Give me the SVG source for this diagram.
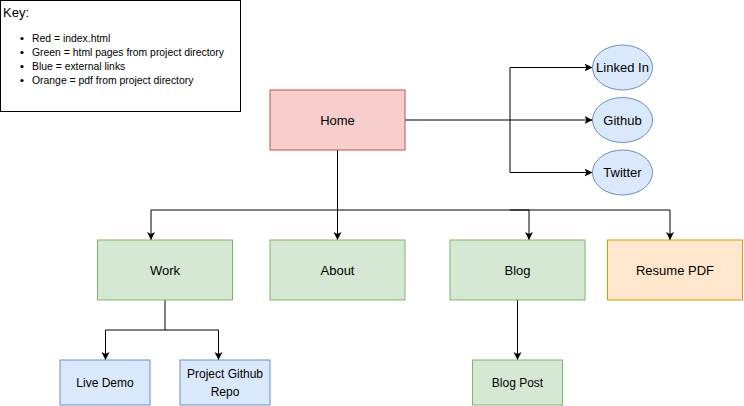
<svg xmlns="http://www.w3.org/2000/svg" width="744" height="406" viewBox="0 0 744 406">
<style>
text{font-family:"Liberation Sans",Arial,sans-serif;fill:#000}
.n13{font-size:13px;text-anchor:middle}
.n12{font-size:12px;text-anchor:middle}
.k{font-size:10.4px}
.red{fill:#f8cecc;stroke:#b85450}
.green{fill:#d5e8d4;stroke:#82b366}
.blue{fill:#dae8fc;stroke:#6c8ebf}
.orange{fill:#ffe6cc;stroke:#d79b00}
.edge{fill:none;stroke:#000;stroke-width:1}
</style>
<defs>
<marker id="arr" markerUnits="userSpaceOnUse" markerWidth="10" markerHeight="10" refX="8" refY="4" orient="auto">
<path d="M0,0 L8,4 L0,8 L2,4 Z" fill="#000"/>
</marker>
</defs>
<rect width="744" height="406" fill="#fff"/>
<g id="key">
<rect x="0.5" y="0.5" width="240" height="111" fill="#fff" stroke="#000"/>
<text x="3" y="17" style="font-size:13px">Key:</text>
<circle cx="22" cy="38.5" r="1.6" fill="#000"/>
<circle cx="22" cy="52.5" r="1.6" fill="#000"/>
<circle cx="22" cy="66.5" r="1.6" fill="#000"/>
<circle cx="22" cy="80.5" r="1.6" fill="#000"/>
<text class="k" x="32" y="42">Red = index.html</text>
<text class="k" x="32" y="56">Green = html pages from project directory</text>
<text class="k" x="32" y="70">Blue = external links</text>
<text class="k" x="32" y="84">Orange = pdf from project directory</text>
</g>
<g id="connectors">
<path class="edge" d="M405,120 H592.5" marker-end="url(#arr)"/>
<path class="edge" d="M510,120 V67.5 H592.5" marker-end="url(#arr)"/>
<path class="edge" d="M510,120 V172.5 H592.5" marker-end="url(#arr)"/>
<path class="edge" d="M337.5,150 V240" marker-end="url(#arr)"/>
<path class="edge" d="M337.5,210 H151 V240" marker-end="url(#arr)"/>
<path class="edge" d="M337.5,210 H529 V240" marker-end="url(#arr)"/>
<path class="edge" d="M529,210 H670 V240" marker-end="url(#arr)"/>
<path class="edge" d="M510,210 H529"/>
<path class="edge" d="M165,300 V330 H105.5 V360" marker-end="url(#arr)"/>
<path class="edge" d="M165,330 H218.5 V360" marker-end="url(#arr)"/>
<path class="edge" d="M517.5,300 V360" marker-end="url(#arr)"/>
</g>
<g id="home"><rect class="red" x="270" y="90" width="135" height="60"/><text class="n13" x="337.5" y="124.6">Home</text></g>
<g id="linkedin"><ellipse class="blue" cx="622.5" cy="67.5" rx="30" ry="22.5"/><text class="n13" x="622.5" y="72.1">Linked In</text></g>
<g id="github"><ellipse class="blue" cx="622.5" cy="120" rx="30" ry="22.5"/><text class="n13" x="622.5" y="124.6">Github</text></g>
<g id="twitter"><ellipse class="blue" cx="622.5" cy="172.5" rx="30" ry="22.5"/><text class="n13" x="622.5" y="177.1">Twitter</text></g>
<g id="work"><rect class="green" x="97.5" y="240" width="135" height="60"/><text class="n13" x="165" y="274.6">Work</text></g>
<g id="about"><rect class="green" x="270" y="240" width="135" height="60"/><text class="n13" x="337.5" y="274.6">About</text></g>
<g id="blog"><rect class="green" x="450" y="240" width="135" height="60"/><text class="n13" x="517.5" y="274.6">Blog</text></g>
<g id="resume"><rect class="orange" x="607.5" y="240" width="135" height="60"/><text class="n13" x="675" y="274.6">Resume PDF</text></g>
<g id="livedemo"><rect class="blue" x="60" y="360" width="90" height="45"/><text class="n12" x="105" y="386.7">Live Demo</text></g>
<g id="repo"><rect class="blue" x="180" y="360" width="90" height="45"/><text class="n12" x="225" y="378.3">Project Github</text><text class="n12" x="225" y="395.7">Repo</text></g>
<g id="blogpost"><rect class="green" x="472.5" y="360" width="90" height="45"/><text class="n12" x="517.5" y="386.7">Blog Post</text></g>
</svg>
